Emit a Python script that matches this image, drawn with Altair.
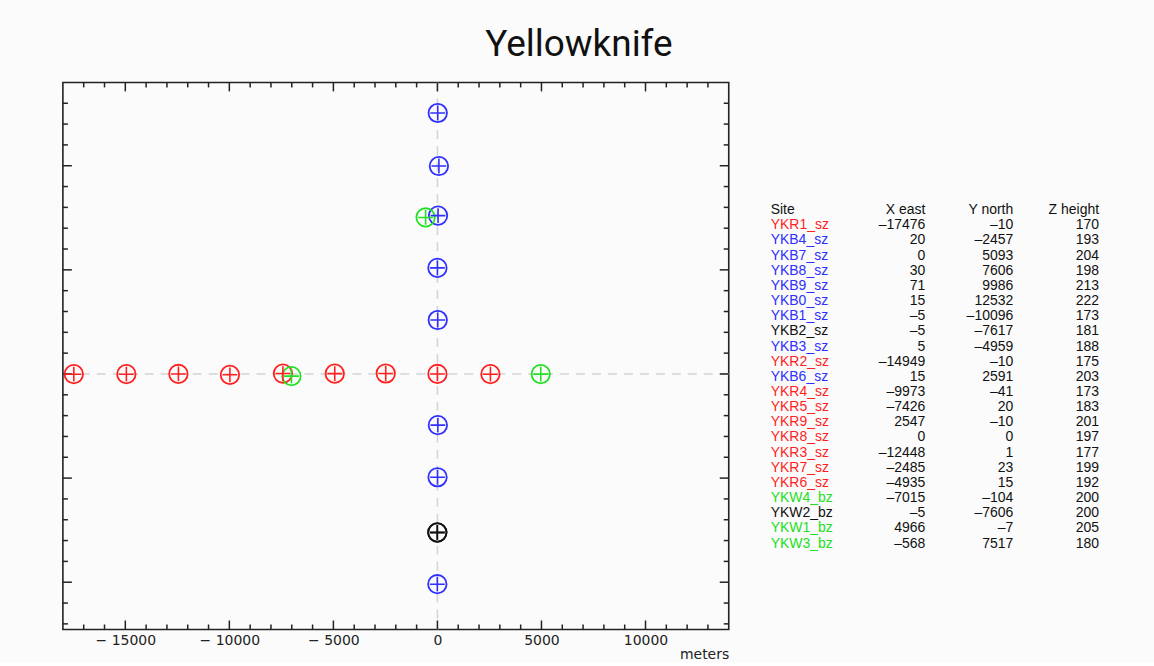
import altair as alt
import pandas as pd

# ---------------- data ----------------
sites = ["YKR1_sz", "YKB4_sz", "YKB7_sz", "YKB8_sz", "YKB9_sz", "YKB0_sz", "YKB1_sz",
         "YKB2_sz", "YKB3_sz", "YKR2_sz", "YKB6_sz", "YKR4_sz", "YKR5_sz", "YKR9_sz",
         "YKR8_sz", "YKR3_sz", "YKR7_sz", "YKR6_sz", "YKW4_bz", "YKW2_bz", "YKW1_bz", "YKW3_bz"]
x_east = [-17476, 20, 0, 30, 71, 15, -5, -5, 5, -14949, 15, -9973, -7426, 2547,
          0, -12448, -2485, -4935, -7015, -5, 4966, -568]
y_north = [-10, -2457, 5093, 7606, 9986, 12532, -10096, -7617, -4959, -10, 2591, -41, 20, -10,
           0, 1, 23, 15, -104, -7606, -7, 7517]
z_height = [170, 193, 204, 198, 213, 222, 173, 181, 188, 175, 203, 173, 183, 201,
            197, 177, 199, 192, 200, 200, 205, 180]
site_group = ["red", "blue", "blue", "blue", "blue", "blue", "blue", "black", "blue", "red", "blue",
              "red", "red", "red", "red", "red", "red", "red", "green", "black", "green", "green"]

headers = ["Site", "X east", "Y north", "Z height"]
x_major = [-15000, -10000, -5000, 0, 5000, 10000]
x_minor = [-17000, -16000, -14000, -13000, -12000, -11000, -9000, -8000, -7000, -6000,
           -4000, -3000, -2000, -1000, 1000, 2000, 3000, 4000, 6000, 7000, 8000, 9000,
           11000, 12000, 13000]
y_major = [-10000, -5000, 0, 5000, 10000]
y_minor = [-12000, -11000, -9000, -8000, -7000, -6000, -4000, -3000, -2000, -1000,
           1000, 2000, 3000, 4000, 6000, 7000, 8000, 9000, 11000, 12000, 13000]
zero_line = [0]
x_domain = [-18000, 14000]
y_domain = [-12270, 14000]

# ---------------- styles ----------------
W, H = 667, 548
FONT = "Liberation Sans"
AXFONT = "DejaVu Sans"
INK = "#222222"
cscale = alt.Scale(domain=["red", "blue", "black", "green"],
                   range=["#ff1f1f", "#2f2fff", "#111111", "#22e022"])
xscale = alt.Scale(domain=x_domain, nice=False, zero=False)
yscale = alt.Scale(domain=y_domain, nice=False, zero=False)

pts = pd.DataFrame({"site": sites, "x": x_east, "y": y_north, "group": site_group})

xaxis = alt.Axis(values=x_major, ticks=False, domain=False, grid=False,
                 labelExpr="datum.value < 0 ? '\u2212 ' + format(-datum.value, 'd') : format(datum.value, 'd')",
                 labelFont=AXFONT, labelFontSize=14, labelColor=INK, labelPadding=4,
                 labelFlush=False, title="meters", titleFont=AXFONT, titleFontSize=14,
                 titleFontWeight="normal", titleColor=INK, titleAnchor="end", titlePadding=0)

zero_df = pd.DataFrame({"v": zero_line})
vzero = alt.Chart(zero_df).mark_rule(color="#d4d4d4", strokeWidth=1.5, strokeDash=[9, 7]).encode(
    x=alt.X("v:Q", scale=xscale, axis=xaxis))
hzero = alt.Chart(zero_df).mark_rule(color="#d4d4d4", strokeWidth=1.5, strokeDash=[9, 7]).encode(
    y=alt.Y("v:Q", scale=yscale, axis=None))

circles = alt.Chart(pts).mark_point(shape="circle", size=340, filled=False, strokeWidth=1.8,
                                    opacity=1).encode(
    x=alt.X("x:Q", scale=xscale, axis=xaxis),
    y=alt.Y("y:Q", scale=yscale, axis=None),
    color=alt.Color("group:N", scale=cscale, legend=None))
plus = alt.Chart(pts).mark_point(shape="M-1,0L1,0M0,-1L0,1", size=220, filled=False,
                                 strokeWidth=1.6, opacity=1).encode(
    x=alt.X("x:Q", scale=xscale, axis=xaxis),
    y=alt.Y("y:Q", scale=yscale, axis=None),
    color=alt.Color("group:N", scale=cscale, legend=None))


def xticks(vals, length):
    d = pd.DataFrame({"v": vals})
    base = alt.Chart(d).mark_rule(color=INK, strokeWidth=1.5)
    bottom = base.encode(x=alt.X("v:Q", scale=xscale, axis=xaxis), y=alt.value(H), y2=alt.value(H - length))
    top = base.encode(x=alt.X("v:Q", scale=xscale, axis=xaxis), y=alt.value(0), y2=alt.value(length))
    return [bottom, top]


def yticks(vals, length):
    d = pd.DataFrame({"v": vals})
    base = alt.Chart(d).mark_rule(color=INK, strokeWidth=1.5)
    left = base.encode(y=alt.Y("v:Q", scale=yscale, axis=None), x=alt.value(0), x2=alt.value(length))
    right = base.encode(y=alt.Y("v:Q", scale=yscale, axis=None), x=alt.value(W), x2=alt.value(W - length))
    return [left, right]


plot = alt.layer(
    vzero, hzero,
    *xticks(x_minor, 5), *xticks(x_major, 9), *yticks(y_minor, 5), *yticks(y_major, 9),
    circles, plus,
).properties(width=W, height=H,
             view=alt.ViewBackground(stroke=INK, strokeWidth=1.6))

# ---------------- table ----------------
rows = []
for j, h in enumerate(headers):
    rows.append({"row": 0, "col": j, "text": h, "group": "black"})
for i in range(len(sites)):
    r = i + 1
    rows.append({"row": r, "col": 0, "text": sites[i], "group": site_group[i]})
    rows.append({"row": r, "col": 1, "text": str(x_east[i]).replace("-", "\u2013"), "group": "black"})
    rows.append({"row": r, "col": 2, "text": str(y_north[i]).replace("-", "\u2013"), "group": "black"})
    rows.append({"row": r, "col": 3, "text": str(z_height[i]), "group": "black"})
tdf = pd.DataFrame(rows)

tx = alt.Scale(domain=[0, 1, 2, 3], range=[0, 155, 243, 329], nice=False, zero=False)
ty = alt.Scale(domain=[-8.43, 27.67], reverse=True, nice=False, zero=False)

left_txt = alt.Chart(tdf).transform_filter("datum.col == 0").mark_text(
    align="left", baseline="middle", font=FONT, fontSize=14).encode(
    x=alt.X("col:Q", scale=tx, axis=None),
    y=alt.Y("row:Q", scale=ty, axis=None),
    text="text:N",
    color=alt.Color("group:N", scale=cscale, legend=None))
right_txt = alt.Chart(tdf).transform_filter("datum.col > 0").mark_text(
    align="right", baseline="middle", font=FONT, fontSize=14).encode(
    x=alt.X("col:Q", scale=tx, axis=None),
    y=alt.Y("row:Q", scale=ty, axis=None),
    text="text:N",
    color=alt.Color("group:N", scale=cscale, legend=None))

table = alt.layer(left_txt, right_txt).properties(
    width=345, height=H, view=alt.ViewBackground(stroke="transparent"))

chart = alt.hconcat(plot, table, spacing=39).properties(
    title=alt.TitleParams("Yellowknife", font="Roboto", fontSize=37, fontWeight="normal",
                          color="#111111", anchor="middle", offset=17, dx=-9),
    padding={"left": 60, "top": 25, "right": 38, "bottom": 0},
    background="#fbfbfb",
).resolve_scale(x="independent", y="independent", color="shared")

chart.save("out.html", embed_options={"renderer": "svg", "actions": False})
